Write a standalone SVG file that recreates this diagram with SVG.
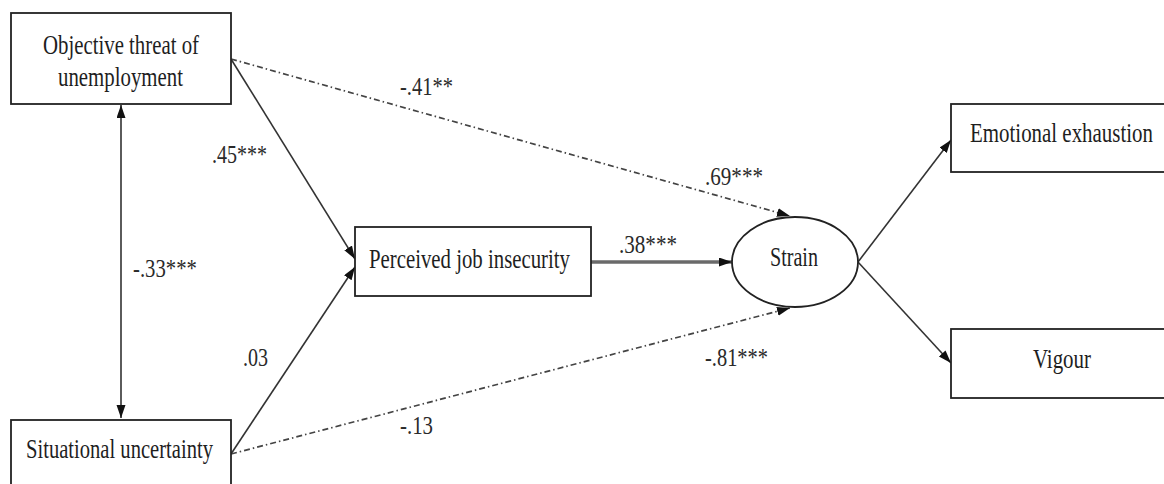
<svg xmlns="http://www.w3.org/2000/svg" width="1164" height="484" viewBox="0 0 1164 484">
  <style>
    .box { fill: #fff; stroke: #222; stroke-width: 1.8; }
    .node-text { font-family: 'Liberation Serif', 'DejaVu Serif', serif; font-size: 28px; fill: #1e1e1e; }
    .coef { font-family: 'Liberation Serif', 'DejaVu Serif', serif; font-size: 26px; fill: #2a2a2a; }
    .path-solid { stroke: #333; stroke-width: 1.6; fill: none; }
    .path-dash { stroke: #444; stroke-width: 1.7; fill: none; stroke-dasharray: 6 3 1.5 3; }
    .path-thick { stroke: #6a6a6a; stroke-width: 3.5; fill: none; }
  </style>
  <defs>
    <marker id="arrow" markerUnits="userSpaceOnUse" markerWidth="14" markerHeight="10" refX="13" refY="4.5" orient="auto-start-reverse">
      <path d="M0,0 L13,4.5 L0,9 z" fill="#111"/>
    </marker>
  </defs>
  <rect width="1164" height="484" fill="#fff"/>

  <!-- connectors with their path coefficients -->
  <g id="connectors">
    <line class="path-solid" x1="121" y1="105" x2="121" y2="418" marker-start="url(#arrow)" marker-end="url(#arrow)"/>
    <line class="path-solid" x1="231" y1="59" x2="355" y2="259" marker-end="url(#arrow)"/>
    <line class="path-solid" x1="231" y1="454" x2="355" y2="267" marker-end="url(#arrow)"/>
    <line class="path-dash" x1="231" y1="59" x2="790" y2="216" marker-end="url(#arrow)"/>
    <line class="path-dash" x1="231" y1="454" x2="790" y2="308" marker-end="url(#arrow)"/>
    <line class="path-thick" x1="591" y1="262" x2="732" y2="262" marker-end="url(#arrow)"/>
    <line class="path-solid" x1="858" y1="262" x2="951" y2="140" marker-end="url(#arrow)"/>
    <line class="path-solid" x1="858" y1="262" x2="951" y2="363" marker-end="url(#arrow)"/>

    <text class="coef" x="212" y="163" textLength="55" lengthAdjust="spacingAndGlyphs">.45***</text>
    <text class="coef" x="400" y="95" textLength="53" lengthAdjust="spacingAndGlyphs">-.41**</text>
    <text class="coef" x="705" y="185" textLength="58" lengthAdjust="spacingAndGlyphs">.69***</text>
    <text class="coef" x="619" y="253" textLength="58" lengthAdjust="spacingAndGlyphs">.38***</text>
    <text class="coef" x="133" y="277" textLength="64" lengthAdjust="spacingAndGlyphs">-.33***</text>
    <text class="coef" x="243" y="366" textLength="25" lengthAdjust="spacingAndGlyphs">.03</text>
    <text class="coef" x="705" y="366" textLength="63" lengthAdjust="spacingAndGlyphs">-.81***</text>
    <text class="coef" x="400" y="434" textLength="33" lengthAdjust="spacingAndGlyphs">-.13</text>
  </g>

  <!-- nodes -->
  <g id="objective-threat">
    <rect class="box" x="11" y="13" width="220" height="91"/>
    <text class="node-text" x="43" y="54" textLength="156" lengthAdjust="spacingAndGlyphs">Objective threat of</text>
    <text class="node-text" x="58" y="86" textLength="125" lengthAdjust="spacingAndGlyphs">unemployment</text>
  </g>
  <g id="situational-uncertainty">
    <rect class="box" x="11" y="420" width="220" height="80"/>
    <text class="node-text" x="26" y="458" textLength="187" lengthAdjust="spacingAndGlyphs">Situational uncertainty</text>
  </g>
  <g id="perceived-job-insecurity">
    <rect class="box" x="355" y="227" width="236" height="69"/>
    <text class="node-text" x="369" y="268" textLength="201" lengthAdjust="spacingAndGlyphs">Perceived job insecurity</text>
  </g>
  <g id="strain">
    <ellipse class="box" cx="795" cy="262" rx="63" ry="45"/>
    <text class="node-text" x="770" y="266" textLength="48" lengthAdjust="spacingAndGlyphs">Strain</text>
  </g>
  <g id="emotional-exhaustion">
    <rect class="box" x="951" y="104" width="220" height="68"/>
    <text class="node-text" x="970" y="142" textLength="183" lengthAdjust="spacingAndGlyphs">Emotional exhaustion</text>
  </g>
  <g id="vigour">
    <rect class="box" x="951" y="329" width="220" height="69"/>
    <text class="node-text" x="1033" y="368" textLength="58" lengthAdjust="spacingAndGlyphs">Vigour</text>
  </g>
</svg>
